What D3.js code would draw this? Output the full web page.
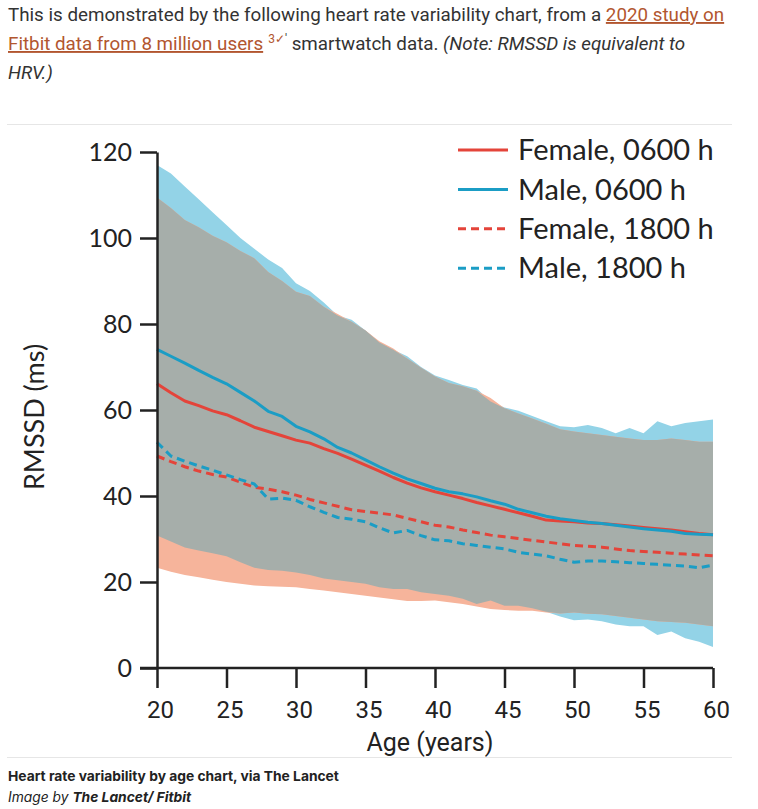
<!DOCTYPE html>
<html>
<head>
<meta charset="utf-8">
<script src="https://cdn.jsdelivr.net/npm/d3@7"></script>
<style>
  html, body { margin: 0; padding: 0; background: #fff; }
  svg { display: block; }
</style>
</head>
<body>
<svg id="chart" width="758" height="809"></svg>
<script>
// ---------- DATA ----------
const ages = d3.range(20, 61); // 20..60
const xTicks = [20, 25, 30, 35, 40, 45, 50, 55, 60];
const yTicks = [0, 20, 40, 60, 80, 100, 120];

// Male band (upper / lower)
const maleUpper = [117, 115, 112, 109, 106, 103, 100, 97.5, 95, 93, 89.5, 87.7, 85, 82, 81, 78.5, 75.7, 74, 72.5, 70,
  68, 67, 65.8, 65, 62, 60.6, 59.8, 58.6, 57.4, 56.2, 56, 56.5, 55.8, 54.6, 55.8, 54.6, 57.4, 56.2, 57, 57.4, 57.8];
const maleLower = [30.8, 29.4, 28, 27.3, 26.7, 26, 24.6, 23.3, 22.8, 22.6, 22.2, 21.6, 20.8, 20.4, 20, 19.6, 18.8, 18.4, 18.4, 17.6,
  17.2, 16.8, 16.1, 14.9, 15.7, 14.5, 14.5, 13.9, 13.1, 12.0, 11.1, 11.3, 10.9, 10.1, 9.7, 9.7, 7.7, 8.5, 6.9, 6.1, 4.9];
// Female band (upper / lower)
const femaleUpper = [109.4, 107, 104.2, 102.5, 100.5, 99, 97, 95.3, 92.1, 90, 87.5, 86.5, 84, 82.3, 80.5, 78.5, 76.0, 74.3, 72, 69.8,
  67.8, 66.3, 65.5, 64.5, 62.8, 60.4, 59.2, 58, 56.8, 55.5, 55, 54.6, 54.2, 53.8, 53.4, 53, 53, 53.4, 53, 52.6, 52.6];
const femaleLower = [23.3, 22.4, 21.6, 21.1, 20.5, 20, 19.6, 19.2, 19, 18.9, 18.8, 18.4, 18, 17.6, 17.2, 16.8, 16.4, 16, 15.6, 15.6,
  15.7, 15.3, 14.9, 14.3, 13.7, 13.5, 13.3, 13.3, 12.9, 12.7, 12.9, 12.6, 12.5, 12.1, 11.7, 11.3, 10.9, 10.7, 10.5, 10.1, 9.7];

// Median lines
const male0600 = [74.1, 72.5, 70.9, 69.2, 67.6, 66.1, 64.1, 62.1, 59.7, 58.5, 56.2, 54.9, 53.3, 51.3, 50, 48.4, 46.8, 45.3, 44, 42.9,
  41.8, 41, 40.5, 39.8, 38.9, 38.1, 36.9, 36.1, 35.3, 34.7, 34.3, 33.9, 33.6, 33.2, 32.8, 32.4, 32.1, 31.8, 31.3, 31.1, 31.0];
const female0600 = [66.1, 64, 62.1, 61, 59.8, 58.9, 57.5, 56, 55, 54, 53, 52.3, 51, 49.9, 48.6, 47.2, 45.8, 44.3, 43, 41.9,
  41, 40.2, 39.4, 38.5, 37.7, 36.9, 36.1, 35.3, 34.4, 34.2, 34, 33.7, 33.6, 33.3, 33, 32.7, 32.4, 32.1, 31.7, 31.3, 31.0];
const male1800 = [52.5, 49.3, 48.1, 47, 46, 44.9, 43.8, 42.8, 39.3, 39.5, 39, 37.5, 36.2, 35, 34.6, 34, 32.6, 31.4, 32, 30.8,
  29.8, 29.6, 28.9, 28.5, 28.1, 27.7, 26.9, 26.5, 26.1, 25.3, 24.6, 24.9, 24.9, 24.7, 24.5, 24.3, 24.1, 23.9, 23.7, 23.3, 23.9];
const female1800 = [49.3, 48, 46.8, 45.8, 45, 44.4, 43.2, 42, 41.6, 41, 40.2, 39.2, 38.4, 37.6, 36.8, 36.4, 36, 35.6, 34.8, 34,
  33.2, 32.8, 32.1, 31.5, 30.9, 30.5, 30.1, 29.7, 29.3, 28.9, 28.5, 28.3, 28.1, 27.7, 27.3, 27.1, 26.9, 26.7, 26.5, 26.3, 26.1];

const legendLabels = ["Female, 0600 h", "Male, 0600 h", "Female, 1800 h", "Male, 1800 h"];

// ---------- STYLE ----------
const RED = "#e4443a", BLUE = "#1b9dc5";
const BAND_BLUE = "#93d3e7", BAND_SALMON = "#f6b49b", BAND_GRAY = "#a6aeaa";
const TEXT = "#333";

const svg = d3.select("#chart");

// ---------- Header paragraph ----------
const hdrFont = "Roboto, 'Noto Sans', sans-serif";
const HS = 18.8;
const LINK = "#b2562f";
const h1 = svg.append("text").attr("x", 8).attr("y", 21)
  .attr("font-family", hdrFont).attr("font-size", HS).attr("fill", TEXT);
h1.append("tspan").text("This is demonstrated by the following heart rate variability chart, from a ");
h1.append("tspan").attr("fill", LINK).attr("text-decoration", "underline").text("2020 study on");

const h2 = svg.append("text").attr("x", 8).attr("y", 50)
  .attr("font-family", hdrFont).attr("font-size", HS).attr("fill", TEXT);
h2.append("tspan").attr("fill", LINK).attr("text-decoration", "underline").text("Fitbit data from 8 million users");
h2.append("tspan").attr("fill", LINK).attr("font-size", 12).attr("dy", -7).attr("dx", 5).text("3✓");
h2.append("tspan").attr("font-size", 12).text("'");
h2.append("tspan").attr("dy", 7).text(" smartwatch data. ");
h2.append("tspan").attr("font-style", "italic").text("(Note: RMSSD is equivalent to");

svg.append("text").attr("x", 8).attr("y", 79)
  .attr("font-family", hdrFont).attr("font-size", HS).attr("fill", TEXT)
  .attr("font-style", "italic").text("HRV.)");

// faint frame lines of the embedded image
svg.append("line").attr("x1", 7).attr("x2", 732).attr("y1", 124.5).attr("y2", 124.5)
  .attr("stroke", "#e6e6e6").attr("stroke-width", 1);
svg.append("line").attr("x1", 7).attr("x2", 732).attr("y1", 757.5).attr("y2", 757.5)
  .attr("stroke", "#e6e6e6").attr("stroke-width", 1);

// ---------- Scales ----------
const x = d3.scaleLinear().domain([20, 60]).range([157, 713]);
const y = d3.scaleLinear().domain([0, 120]).range([668, 152]);

const rows = ages.map((a, i) => ({
  age: a, mHi: maleUpper[i], mLo: maleLower[i], fHi: femaleUpper[i], fLo: femaleLower[i],
  m06: male0600[i], f06: female0600[i], m18: male1800[i], f18: female1800[i]
}));

const area = (lo, hi) => d3.area().x(d => x(d.age)).y0(d => y(lo(d))).y1(d => y(hi(d)));

const g = svg.append("g");
g.append("path").datum(rows).attr("fill", BAND_BLUE).attr("d", area(d => d.mLo, d => d.mHi));
g.append("path").datum(rows).attr("fill", BAND_SALMON).attr("d", area(d => d.fLo, d => d.fHi));
g.append("path").datum(rows).attr("fill", BAND_GRAY)
  .attr("d", area(d => Math.max(d.mLo, d.fLo), d => Math.min(d.mHi, d.fHi)));

const line = key => d3.line().x(d => x(d.age)).y(d => y(d[key]));
const series = [
  { key: "f18", color: RED, dash: "8,5" },
  { key: "m18", color: BLUE, dash: "8,5" },
  { key: "f06", color: RED, dash: null },
  { key: "m06", color: BLUE, dash: null }
];
series.forEach(s => {
  g.append("path").datum(rows).attr("fill", "none").attr("stroke", s.color)
    .attr("stroke-width", 3).attr("stroke-dasharray", s.dash)
    .attr("stroke-linejoin", "round").attr("d", line(s.key));
});

// ---------- Axes ----------
const axisFont = "Lato, 'Open Sans', sans-serif";
const xAxis = svg.append("g").attr("transform", `translate(0,${y(0)})`)
  .call(d3.axisBottom(x).tickValues(xTicks).tickSize(20).tickSizeOuter(0).tickPadding(13));
xAxis.selectAll("text").attr("font-family", "Roboto, sans-serif").attr("font-size", 24).attr("fill", "#222")
  .attr("dx", 3);

const yAxis = svg.append("g").attr("transform", `translate(${x(20)},0)`)
  .call(d3.axisLeft(y).tickValues(yTicks).tickSize(17).tickSizeOuter(0).tickPadding(8));
yAxis.selectAll("text").attr("font-family", axisFont).attr("font-size", 25).attr("fill", "#222");

[xAxis, yAxis].forEach(ax => {
  ax.select(".domain").attr("stroke", "#222").attr("stroke-width", 2.5);
  ax.selectAll(".tick line").attr("stroke", "#222").attr("stroke-width", 2.5);
});
// extend the x axis domain left to the y tick length
xAxis.select(".domain").attr("d", `M${x(20) - 17},0H${x(60)}`);

svg.append("text").attr("x", 430).attr("y", 751).attr("text-anchor", "middle")
  .attr("font-family", "Roboto, sans-serif").attr("font-size", 25).attr("fill", "#222").text("Age (years)");
svg.append("text").attr("transform", "translate(44,417) rotate(-90)").attr("text-anchor", "middle")
  .attr("font-family", axisFont).attr("font-size", 27).attr("fill", "#222").text("RMSSD (ms)");

// ---------- Legend ----------
const legendColors = [RED, BLUE, RED, BLUE];
const legendDash = [null, null, "8,5", "8,5"];
const lg = svg.append("g");
legendLabels.forEach((lab, i) => {
  const cy = 150 + i * 39.4;
  lg.append("line").attr("x1", 458).attr("x2", 508).attr("y1", cy).attr("y2", cy)
    .attr("stroke", legendColors[i]).attr("stroke-width", 3).attr("stroke-dasharray", legendDash[i]);
  lg.append("text").attr("x", 518).attr("y", cy).attr("dy", "0.35em")
    .attr("font-family", axisFont).attr("font-size", 29).attr("fill", "#222").text(lab);
});

// ---------- Caption ----------
const capFont = "Inter, 'Liberation Sans', sans-serif";
svg.append("text").attr("x", 8).attr("y", 781).attr("font-family", capFont)
  .attr("font-size", 13.8).attr("font-weight", 700).attr("fill", "#222")
  .text("Heart rate variability by age chart, via The Lancet");
const c2 = svg.append("text").attr("x", 8).attr("y", 802).attr("font-family", capFont)
  .attr("font-size", 13.8).attr("font-style", "italic").attr("fill", "#222");
c2.append("tspan").text("Image by ");
c2.append("tspan").attr("font-weight", 700).text("The Lancet/ Fitbit");
</script>
</body>
</html>
